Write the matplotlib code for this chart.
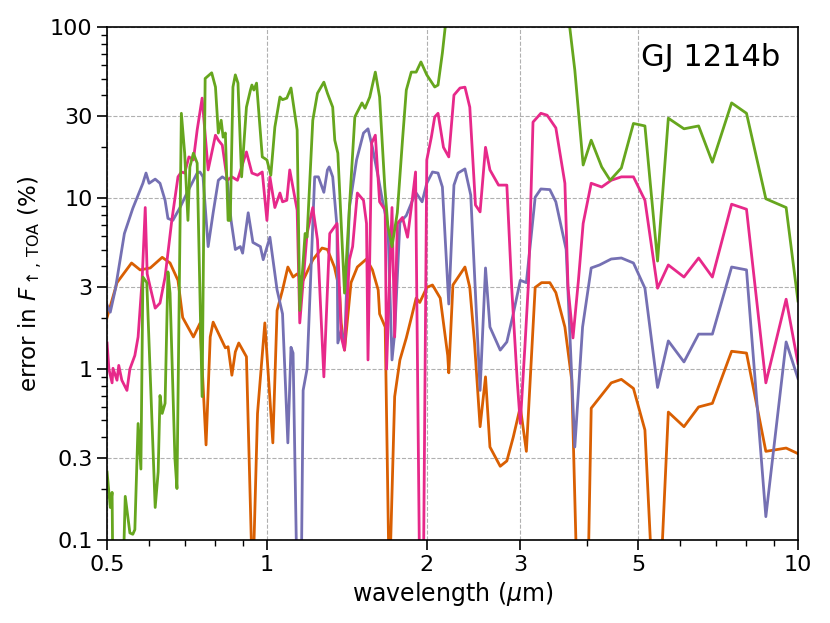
import matplotlib
matplotlib.use('Agg')
import matplotlib.pyplot as plt
from matplotlib.ticker import FixedLocator, LogLocator, NullFormatter

# ---------------- data ----------------
wl_orange = [0.5, 0.522, 0.556, 0.577, 0.603, 0.635, 0.657, 0.68, 0.694, 0.727,
             0.748, 0.768, 0.782, 0.792, 0.835, 0.845, 0.859, 0.872, 0.885, 0.915,
             0.94, 0.96, 0.991, 1.026, 1.045, 1.07, 1.095, 1.12, 1.14, 1.17,
             1.22, 1.27, 1.30, 1.34, 1.37, 1.38, 1.40, 1.44, 1.48, 1.54,
             1.58, 1.62, 1.63, 1.67, 1.70, 1.74, 1.78, 1.83, 1.87, 1.91,
             1.94, 2.0, 2.05, 2.12, 2.19, 2.2, 2.24, 2.36, 2.41, 2.46,
             2.52, 2.58, 2.63, 2.75, 2.83, 2.91, 3.0, 3.08, 3.2, 3.29,
             3.41, 3.5, 3.64, 3.75, 3.84, 4.02, 4.08, 4.45, 4.65, 4.9,
             5.15, 5.33, 5.5, 5.7, 6.1, 6.5, 6.9, 7.5, 8.0, 8.7,
             9.5, 10.0]
err_orange = [2.0, 3.2, 4.17, 3.8, 3.9, 4.5, 4.17, 3.3, 2.0, 1.54,
              1.85, 0.36, 1.54, 1.88, 1.33, 1.35, 0.92, 1.26, 1.42, 1.18,
              0.05, 0.55, 1.86, 0.37, 2.2, 2.9, 3.95, 3.45, 3.6, 3.3,
              4.35, 5.1, 5.0, 3.95, 2.9, 1.86, 1.29, 3.2, 3.95, 4.4,
              3.8, 2.9, 2.1, 1.76, 0.05, 0.69, 1.13, 1.52, 1.99, 2.6,
              2.45, 3.0, 3.1, 2.6, 1.2, 0.95, 3.1, 3.95, 3.0, 1.42,
              0.46, 0.9, 0.35, 0.27, 0.29, 0.4, 0.6, 0.33, 3.0, 3.2,
              3.2, 2.8, 1.76, 0.86, 0.05, 0.05, 0.59, 0.83, 0.87, 0.77,
              0.44, 0.05, 0.05, 0.56, 0.46, 0.6, 0.63, 1.27, 1.24, 0.33,
              0.345, 0.32]

wl_purple = [0.5, 0.507, 0.518, 0.539, 0.559, 0.584, 0.592, 0.6, 0.616, 0.629,
             0.643, 0.651, 0.665, 0.686, 0.707, 0.739, 0.748, 0.758, 0.775, 0.792,
             0.81, 0.824, 0.842, 0.856, 0.872, 0.891, 0.9, 0.922, 0.941, 0.972,
             0.984, 1.013, 1.045, 1.07, 1.095, 1.11, 1.12, 1.14, 1.16, 1.17,
             1.19, 1.23, 1.25, 1.28, 1.30, 1.31, 1.33, 1.355, 1.36, 1.38,
             1.40, 1.43, 1.475, 1.52, 1.55, 1.58, 1.62, 1.65, 1.69, 1.72,
             1.74, 1.78, 1.83, 1.88, 1.91, 1.96, 2.0, 2.05, 2.1, 2.14,
             2.2, 2.25, 2.29, 2.36, 2.42, 2.52, 2.58, 2.63, 2.75, 2.83,
             2.91, 3.0, 3.08, 3.2, 3.28, 3.41, 3.5, 3.66, 3.8, 3.93,
             4.08, 4.23, 4.45, 4.65, 4.9, 5.15, 5.44, 5.7, 6.1, 6.5,
             6.9, 7.5, 8.0, 8.7, 9.5, 10.0]
err_purple = [2.37, 2.15, 2.9, 6.2, 8.7, 12.2, 14, 12.2, 12.9, 12.2,
              9.7, 7.6, 7.4, 8.8, 10.7, 14, 14.2, 13.3, 5.2, 8.2,
              12.7, 13.3, 12.7, 7.4, 5.0, 5.2, 4.76, 8.2, 5.5, 5.2,
              4.36, 5.9, 2.9, 2.1, 0.37, 1.34, 1.24, 0.05, 0.05, 0.75,
              1.0, 13.3, 13.3, 10.8, 14.6, 15.2, 13.3, 6.8, 1.42, 1.69,
              1.33, 8.8, 16.7, 24, 25.4, 19.8, 13.3, 9.7, 6.8, 1.13,
              1.62, 7.2, 7.9, 9.7, 10.7, 9.5, 12.2, 14.2, 14, 11.6,
              2.4, 11.9, 14, 14.8, 10.4, 0.75, 3.9, 1.76, 1.29, 1.44,
              2.1, 3.3, 3.2, 10.1, 11.3, 11.2, 9.5, 5.0, 0.35, 1.76,
              3.9, 4.06, 4.4, 4.46, 4.17, 2.97, 0.78, 1.46, 1.1, 1.6,
              1.6, 3.95, 3.8, 0.137, 1.44, 0.88]

wl_pink = [0.5, 0.504, 0.511, 0.513, 0.522, 0.526, 0.533, 0.545, 0.552, 0.564,
           0.572, 0.582, 0.59, 0.595, 0.603, 0.616, 0.629, 0.643, 0.662, 0.68,
           0.69, 0.7, 0.713, 0.727, 0.739, 0.755, 0.775, 0.8, 0.81, 0.824,
           0.842, 0.859, 0.88, 0.915, 0.937, 0.96, 0.98, 1.0, 1.013, 1.035,
           1.058, 1.07, 1.09, 1.104, 1.14, 1.153, 1.19, 1.22, 1.245, 1.28,
           1.313, 1.355, 1.38, 1.40, 1.43, 1.45, 1.48, 1.52, 1.54, 1.55,
           1.575, 1.6, 1.63, 1.67, 1.68, 1.72, 1.74, 1.76, 1.80, 1.84,
           1.87, 1.905, 1.94, 1.97, 2.0, 2.04, 2.07, 2.1, 2.15, 2.2,
           2.25, 2.31, 2.36, 2.41, 2.47, 2.52, 2.58, 2.63, 2.73, 2.83,
           2.89, 2.96, 3.0, 3.06, 3.11, 3.17, 3.28, 3.37, 3.5, 3.64,
           3.69, 3.77, 3.86, 3.94, 4.08, 4.27, 4.45, 4.65, 4.9, 5.15,
           5.44, 5.7, 6.1, 6.5, 6.9, 7.5, 8.0, 8.7, 9.5, 10.0]
err_pink = [1.42, 1.0, 0.83, 1.01, 0.86, 1.05, 0.86, 0.75, 1.0, 1.2,
            1.54, 3.3, 8.8, 3.6, 3.0, 2.27, 2.43, 3.45, 7.4, 13.3,
            14.2, 14, 17.4, 16.7, 25, 38.4, 14.6, 23.3, 21.8, 20.4,
            12.7, 13.3, 12.7, 18.6, 14, 13.6, 14.2, 7.4, 13.3, 8.8,
            10.7, 9.5, 9.7, 14.6, 8.5, 1.86, 6.2, 8.8, 5.7, 0.9,
            6.2, 7.1, 1.54, 1.29, 4.36, 5.2, 10.7, 9.7, 7.1, 1.13,
            21, 23.3, 9.5, 8.5, 1.0, 8.8, 1.54, 7.1, 7.7, 5.9,
            8.8, 14.2, 0.05, 0.05, 16.7, 22.7, 29.8, 31.3, 19.8, 17.4,
            40, 44, 44.5, 34, 9.1, 8.3, 19.8, 14.6, 11.9, 11.9,
            3.0, 0.86, 0.48, 1.34, 3.3, 27.8, 31.3, 30.5, 25.7, 12.2,
            3.0, 1.52, 3.3, 7.1, 12.2, 11.6, 12.7, 13.3, 13.3, 9.7,
            2.97, 4.06, 3.45, 4.46, 3.45, 9.2, 8.6, 0.83, 2.56, 1.08]

wl_green = [0.5, 0.507, 0.511, 0.513, 0.535, 0.541, 0.552, 0.559, 0.564, 0.572,
            0.579, 0.584, 0.594, 0.616, 0.624, 0.629, 0.635, 0.643, 0.651, 0.657,
            0.671, 0.677, 0.69, 0.7, 0.71, 0.716, 0.727,
            0.739, 0.755, 0.765, 0.787, 0.8, 0.81, 0.82, 0.827, 0.835, 0.845,
            0.853, 0.863, 0.872, 0.882, 0.896, 0.915, 0.931, 0.937, 0.945, 0.956,
            0.98, 1.0, 1.017, 1.035, 1.058, 1.07, 1.09, 1.11, 1.14, 1.153,
            1.18, 1.19, 1.22, 1.245, 1.28, 1.30, 1.33, 1.342, 1.36, 1.40,
            1.43, 1.464, 1.51, 1.53, 1.562, 1.6, 1.63, 1.667, 1.69, 1.72,
            1.76, 1.80, 1.83, 1.87, 1.91, 1.95, 2.0, 2.07, 2.1, 2.14,
            2.22, 3.62, 3.8, 3.94, 4.08, 4.27, 4.43, 4.65, 4.9, 5.15,
            5.44, 5.7, 6.1, 6.5, 6.9, 7.5, 8.0, 8.7, 9.5, 10.0]
err_green = [0.25, 0.155, 0.19, 0.05, 0.05, 0.18, 0.11, 0.108, 0.115, 0.48,
             0.26, 3.45, 3.2, 0.155, 0.25, 0.7, 0.55, 0.63, 3.7, 2.78,
             0.3, 0.2, 31.3, 18.3, 7.4, 15.2, 18.3,
             16, 0.69, 50, 54, 44.6, 24, 28.5, 22.7, 24, 7.4,
             7.4, 44.6, 52.5, 47, 13.3, 34, 42.8, 45.8, 42.8, 47,
             17.4, 16.7, 13.6, 26, 39, 37.6, 38.4, 44, 25, 2.2,
             6.2, 5.9, 28.5, 41, 47.6, 41, 34, 21.8, 18.3, 2.78,
             8.8, 29.8, 36, 33.5, 39, 54.5, 39, 11.6, 6.8, 5.2,
             8.2, 21.8, 42.8, 54.5, 54.5, 62.5, 52.5, 44.6, 45.8, 70.6,
             200, 200, 56, 15.6, 21.8, 15.2, 12.7, 15, 27.3, 26.4,
             4.28, 29.3, 25.4, 26.4, 16.2, 36, 31.3, 9.9, 8.8, 2.5]

xticks = [0.5, 1, 2, 3, 5, 10]
xticklabels = ['0.5', '1', '2', '3', '5', '10']
yticks = [0.1, 0.3, 1, 3, 10, 30, 100]
yticklabels = ['0.1', '0.3', '1', '3', '10', '30', '100']

# ---------------- plot ----------------
fig = plt.figure(figsize=(8.3, 6.23), dpi=100)
ax = fig.add_axes([0.129, 0.1332, 0.8324, 0.8234])

lw = 2.0
ax.plot(wl_orange, err_orange, color='#d95f02', lw=lw)
ax.plot(wl_purple, err_purple, color='#7570b3', lw=lw)
ax.plot(wl_pink, err_pink, color='#e7298a', lw=lw)
ax.plot(wl_green, err_green, color='#66a61e', lw=lw)

ax.set_xscale('log')
ax.set_yscale('log')
ax.set_xlim(0.5, 10)
ax.set_ylim(0.1, 100)

ax.xaxis.set_major_locator(FixedLocator(xticks))
ax.set_xticklabels(xticklabels)
ax.yaxis.set_major_locator(FixedLocator(yticks))
ax.set_yticklabels(yticklabels)
ax.xaxis.set_minor_locator(LogLocator(base=10, subs=range(2, 10)))
ax.yaxis.set_minor_locator(LogLocator(base=10, subs=range(2, 10)))
ax.xaxis.set_minor_formatter(NullFormatter())
ax.yaxis.set_minor_formatter(NullFormatter())

ax.grid(True, which='major', ls='--', color='#b0b0b0', lw=0.8)
ax.tick_params(which='major', direction='out', length=7, width=1.2, labelsize=16)
ax.tick_params(which='minor', direction='out', length=4, width=1.0)
for s in ax.spines.values():
    s.set_linewidth(1.2)

ax.set_xlabel(r'wavelength ($\mu$m)', fontsize=17)
ax.set_ylabel(r'error in $F_{\uparrow,\,\mathrm{TOA}}$ (%)', fontsize=16.5)
ax.text(0.974, 0.941, 'GJ 1214b', transform=ax.transAxes, ha='right',
        va='center', fontsize=22)

fig.savefig('out.png', dpi=100)
